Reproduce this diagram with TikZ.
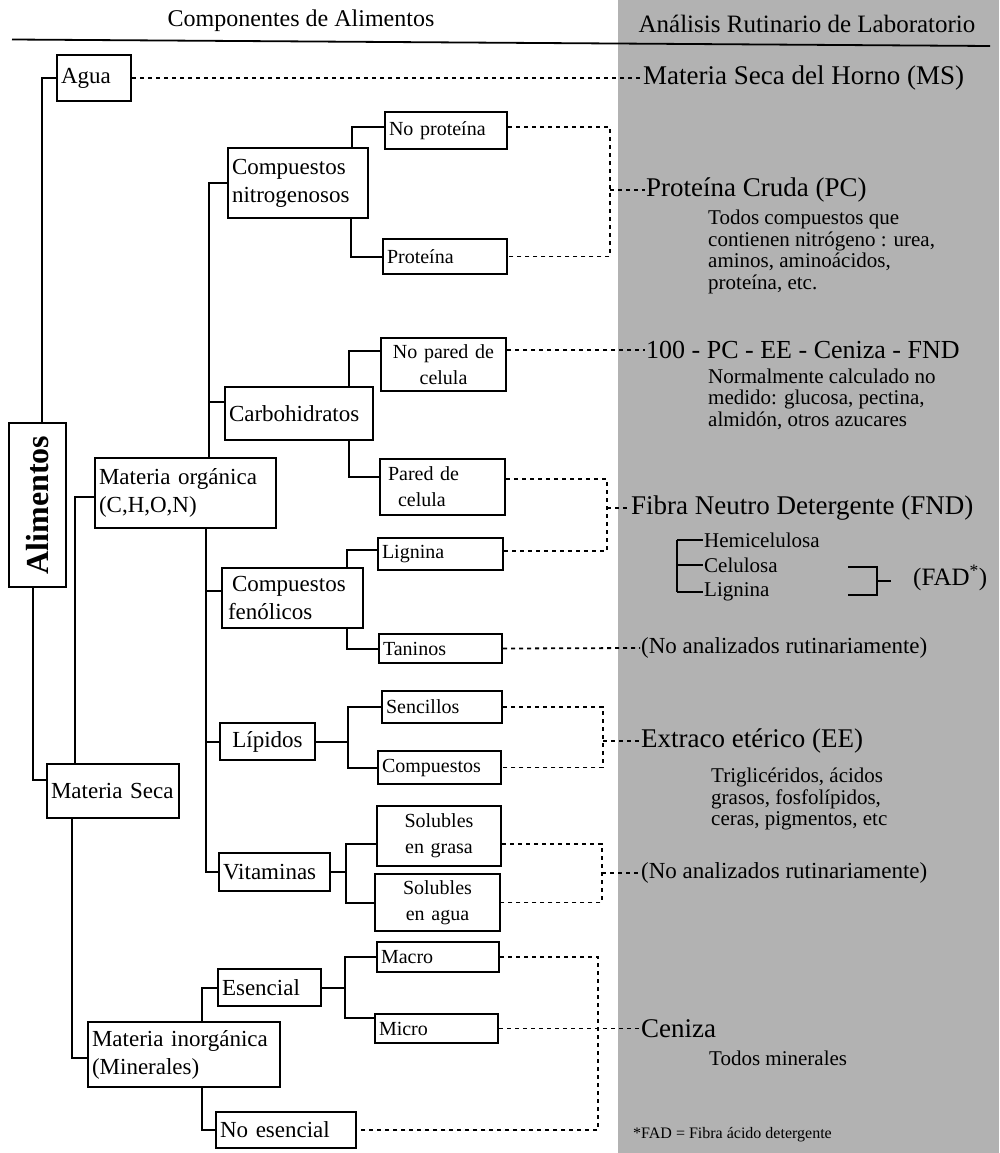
\documentclass[tikz,border=0pt]{standalone}
\usepackage{fontspec}
\setmainfont{Liberation Serif}
\begin{document}
\begin{tikzpicture}[x=1pt,y=-1pt,
  bx/.style={draw, line width=2.2pt, rectangle, inner xsep=3pt, inner ysep=1pt, align=left, font=\fontsize{23}{28}\selectfont},
  lf/.style={bx, font=\fontsize{20}{26}\selectfont},
  ln/.style={line width=2pt},
  dsh/.style={line width=1.8pt, dash pattern=on 4pt off 4pt},
  hd/.style={anchor=west, inner sep=1pt, font=\fontsize{27}{28}\selectfont},
  sb/.style={anchor=west, inner sep=1pt, align=left, font=\fontsize{21}{21.5}\selectfont},
  panel/.style={fill=black!30}
]
\useasboundingbox (0,0) rectangle (999,1153);
\fill[panel] (618,0) rectangle (999,1153);
\coordinate (hl) at (12,39.5);
\coordinate (hr) at (990,46);
\draw[line width=1.8pt] (hl) -- (hr);
\node[font=\fontsize{24}{26}\selectfont] (title1) at (301,21) {Componentes de Alimentos};
\node[font=\fontsize{25}{26}\selectfont] (title2) at (807,24) {Análisis Rutinario de Laboratorio};

% left boxes
\node[bx, minimum width=74pt, minimum height=46pt, text width=66pt] (agua) at (94,78) {Agua};
\node[draw, line width=2.2pt, rotate=90, minimum width=164pt, minimum height=57pt, inner sep=1pt, font=\fontsize{32}{34}\selectfont\bfseries] (alim) at (37.5,505) {Alimentos};
\node[bx, minimum width=132pt, minimum height=54pt, text width=124pt] (ms) at (113,791) {Materia Seca};
\node[bx, minimum width=181pt, minimum height=70pt, text width=173pt] (mo) at (185.5,493) {Materia orgánica\\(C,H,O,N)};
\node[bx, minimum width=192pt, minimum height=65pt, text width=184pt] (mi) at (184,1054.5) {Materia inorgánica\\(Minerales)};
\node[bx, minimum width=140pt, minimum height=70pt, text width=132pt] (cn) at (298,183) {Compuestos\\nitrogenosos};
\node[bx, minimum width=148pt, minimum height=53pt, text width=140pt] (carb) at (299,413.5) {Carbohidratos};
\node[bx, minimum width=141pt, minimum height=60pt, text width=133pt] (cf) at (292.5,598) {\hspace{6pt}Compuestos\\\hspace{2pt}fenólicos};
\node[bx, minimum width=95pt, minimum height=37pt, text width=87pt, align=center] (lip) at (267.5,741.5) {Lípidos};
\node[bx, minimum width=111pt, minimum height=38pt, text width=103pt] (vit) at (274.5,872) {Vitaminas};
\node[bx, minimum width=103pt, minimum height=37pt, text width=95pt] (es) at (269.5,987.5) {Esencial};
\node[bx, minimum width=140pt, minimum height=36pt, text width=132pt] (ne) at (286,1130) {No esencial};

% leaves
\node[lf, minimum width=122pt, minimum height=37pt, text width=114pt] (np) at (446,130.5) {No proteína};
\node[lf, minimum width=124pt, minimum height=35pt, text width=116pt] (prot) at (445,256.5) {Proteína};
\node[lf, minimum width=125pt, minimum height=53pt, text width=117pt, align=center] (npc) at (443.5,364.5) {No pared de\\celula};
\node[lf, minimum width=125pt, minimum height=56pt, text width=117pt] (pc) at (442.5,487) {\hspace{4pt}Pared de\\\hspace{14pt}celula};
\node[lf, minimum width=125pt, minimum height=32pt, text width=117pt] (lig) at (440.5,554) {Lignina};
\node[lf, minimum width=123pt, minimum height=29pt, text width=115pt] (tan) at (440.5,648.5) {Taninos};
\node[lf, minimum width=120pt, minimum height=32pt, text width=112pt] (sen) at (442,707) {Sencillos};
\node[lf, minimum width=123pt, minimum height=33pt, text width=115pt] (comp) at (439.5,767.5) {Compuestos};
\node[lf, minimum width=124pt, minimum height=60pt, text width=116pt, align=center] (sg) at (439,836) {Solubles\\en grasa};
\node[lf, minimum width=125pt, minimum height=57pt, text width=117pt, align=center] (sa) at (437.5,902.5) {Solubles\\en agua};
\node[lf, minimum width=122pt, minimum height=30pt, text width=114pt] (mac) at (438,957) {Macro};
\node[lf, minimum width=123pt, minimum height=29pt, text width=115pt] (mic) at (436.5,1028.5) {Micro};

% solid connectors
\draw[ln] ([xshift=4.5pt]alim.east) |- (agua.west);
\draw[ln] ([xshift=-4.5pt]alim.west) |- ([yshift=11pt]ms.west);
\draw[ln] ([xshift=29pt]ms.north west) |- ([yshift=-4pt]mo.west);
\draw[ln] ([xshift=26pt]ms.south west) |- ([yshift=-3.5pt]mi.west);

\draw[ln] ([xshift=115pt]mo.north west) |- (cn.west);
\coordinate (jcarb) at (210,402);
\draw[ln] (jcarb) -- ([yshift=11.5pt]carb.west);
\draw[ln] ([xshift=112pt]mo.south west) |- (vit.west);
\coordinate (jcf) at (207,591);
\draw[ln] (jcf) -- ([yshift=7pt]cf.west);
\coordinate (jlip) at (207,741.5);
\draw[ln] (jlip) -- (lip.west);

\draw[ln] ([xshift=125pt]cn.north west) |- ([yshift=3.5pt]np.west);
\draw[ln] ([xshift=124pt]cn.south west) |- (prot.west);
\draw[ln] ([xshift=125pt]carb.north west) |- ([yshift=13.5pt]npc.west);
\draw[ln] ([xshift=125pt]carb.south west) |- ([yshift=10pt]pc.west);
\draw[ln] ([xshift=126pt]cf.north west) |- ([yshift=4pt]lig.west);
\draw[ln] ([xshift=126pt]cf.south west) |- (tan.west);
\coordinate (jl) at (348,741.5);
\draw[ln] (lip.east) -- (jl);
\draw[ln] (sen.west) -| (jl) |- (comp.west);
\coordinate (jv) at (346,872);
\draw[ln] (vit.east) -- (jv);
\draw[ln] ([yshift=-8pt]sg.west) -| (jv) |- (sa.west);
\draw[ln] ([xshift=115pt]mi.north west) |- (es.west);
\draw[ln] ([xshift=115pt]mi.south west) |- (ne.west);
\coordinate (je) at (345,987.5);
\draw[ln] (es.east) -- (je);
\draw[ln] (mac.west) -| (je) |- ([yshift=10.5pt]mic.west);

% right panel texts
\node[hd] (msT) at (642,78) {Materia Seca del Horno (MS)};
\node[hd] (pcT) at (645,190) {Proteína Cruda (PC)};
\node[sb] (pcS) at (707,252) {Todos compuestos que\\contienen nitrógeno : urea,\\aminos, aminoácidos,\\proteína, etc.};
\node[hd, font=\fontsize{26}{27}\selectfont] (cienT) at (645,350) {100 - PC - EE - Ceniza - FND};
\node[sb] (cienS) at (707,399) {Normalmente calculado no\\medido: glucosa, pectina,\\almidón, otros azucares};
\node[hd] (fndT) at (630,508) {Fibra Neutro Detergente (FND)};
\node[sb] (hemi) at (703,540) {Hemicelulosa};
\node[sb] (celu) at (703,565) {Celulosa};
\node[sb] (lign) at (703,592) {Lignina};
\node[anchor=west, inner sep=1pt, font=\fontsize{25}{26}\selectfont] (fad) at (912,578) {(FAD\textsuperscript{*})};
\node[anchor=west, inner sep=1pt, font=\fontsize{23}{24}\selectfont] (tanT) at (640,648) {(No analizados rutinariamente)};
\node[hd] (eeT) at (640,741) {Extraco etérico (EE)};
\node[sb] (eeS) at (710,799) {Triglicéridos, ácidos\\grasos, fosfolípidos,\\ceras, pigmentos, etc};
\node[anchor=west, inner sep=1pt, font=\fontsize{23}{24}\selectfont] (vitT) at (640,873) {(No analizados rutinariamente)};
\node[hd] (cenT) at (640,1028.5) {Ceniza};
\node[sb] (cenS) at (708,1058) {Todos minerales};
\node[anchor=west, inner sep=1pt, font=\fontsize{16}{18}\selectfont] (foot) at (632,1135) {*FAD = Fibra ácido detergente};

% FND bracket
\coordinate (b1) at (677,540);
\coordinate (b2) at (677,592);
\draw[ln] (b1) -- (b2);
\draw[ln] (b1) -- (hemi.west);
\draw[ln] (b1 |- celu.west) -- (celu.west);
\draw[ln] (b2) -- (lign.west);
\coordinate (r1) at (848,567);
\coordinate (r2) at (877,567);
\coordinate (r3) at (877,595);
\coordinate (r4) at (848,595);
\draw[ln] (r1) -- (r2) -- (r3) -- (r4);
\coordinate (rm) at (877,581);
\coordinate (rt) at (891,581);
\draw[ln] (rm) -- (rt);

% dashed connectors
\draw[dsh] (agua.east) -- (msT.west);
\coordinate (jpc) at (610,190);
\draw[dsh] ([yshift=3.5pt]np.east) -| (jpc) |- (prot.east);
\draw[dsh] (jpc) -- (pcT.west);
\draw[dsh] ([yshift=14.5pt]npc.east) -- (cienT.west);
\coordinate (jfnd) at (607,508);
\draw[dsh] ([yshift=8pt]pc.east) -| (jfnd) |- ([yshift=3pt]lig.east);
\draw[dsh] (jfnd) -- (fndT.west);
\draw[dsh] (tan.east) -- (tanT.west);
\coordinate (jee) at (603,741);
\draw[dsh] (sen.east) -| (jee) |- (comp.east);
\draw[dsh] (jee) -- (eeT.west);
\coordinate (jvit) at (602,873);
\draw[dsh] ([yshift=-8pt]sg.east) -| (jvit) |- (sa.east);
\draw[dsh] (jvit) -- (vitT.west);
\coordinate (jcen) at (598,1028.5);
\draw[dsh] (mac.east) -| (jcen) |- (ne.east);
\draw[dsh] (mic.east) -- (cenT.west);
\end{tikzpicture}
\end{document}
